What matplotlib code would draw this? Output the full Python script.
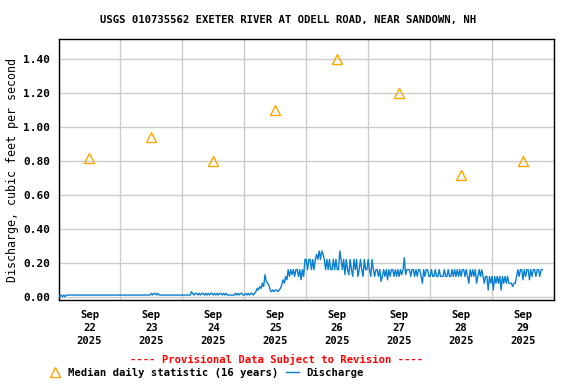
import numpy as np
import pandas as pd
import matplotlib
matplotlib.use("Agg")
import matplotlib.pyplot as plt
import matplotlib.dates as mdates
from matplotlib.lines import Line2D

plt.rcParams["font.family"] = "DejaVu Sans Mono"
plt.rcParams["font.weight"] = "bold"

title = "USGS 010735562 EXETER RIVER AT ODELL ROAD, NEAR SANDOWN, NH"

# median daily statistic, one per day (plotted at noon)
median_days = ["2025-09-22", "2025-09-23", "2025-09-24", "2025-09-25",
               "2025-09-26", "2025-09-27", "2025-09-28", "2025-09-29"]
median_vals = [0.82, 0.94, 0.80, 1.10, 1.40, 1.20, 0.72, 0.80]

# discharge readings, every 30 minutes, one list per day
q_sep22 = [0.01, 0.00, 0.01, 0.00, 0.01, 0.00] + [0.01] * 42
q_sep23 = [0.01] * 24 + [0.02, 0.01, 0.02, 0.02, 0.01, 0.02] + [0.01] * 18
q_sep24 = ([0.01] * 7 + [0.03] +
           [0.02, 0.01, 0.02, 0.02, 0.01, 0.02, 0.01, 0.02, 0.02, 0.01,
            0.02, 0.01, 0.02, 0.01, 0.02, 0.02, 0.01, 0.02, 0.01, 0.02,
            0.01, 0.02, 0.02, 0.01, 0.02, 0.01, 0.02, 0.01] +
           [0.01] * 5 +
           [0.02, 0.01, 0.02, 0.01, 0.02, 0.02, 0.01])
q_sep25 = [0.01, 0.02, 0.01, 0.02, 0.01, 0.02, 0.02, 0.01, 0.02,
           0.03, 0.05, 0.04, 0.06, 0.05, 0.08, 0.06, 0.13, 0.09, 0.08, 0.07,
           0.04, 0.03, 0.04, 0.03, 0.04, 0.04, 0.03, 0.04, 0.05,
           0.07, 0.10, 0.08, 0.12, 0.10,
           0.16, 0.12, 0.16, 0.13, 0.16, 0.12, 0.16, 0.16, 0.12, 0.16,
           0.10, 0.16, 0.12, 0.22]
q_sep26 = [0.22, 0.16, 0.22, 0.22, 0.16, 0.22, 0.16,
           0.22, 0.25, 0.22, 0.27, 0.22, 0.27, 0.25, 0.22, 0.16, 0.22,
           0.16, 0.22, 0.16, 0.16, 0.22, 0.16, 0.22, 0.16, 0.16,
           0.27, 0.22,
           0.16, 0.22, 0.13, 0.22, 0.16, 0.13,
           0.22, 0.16, 0.12, 0.22, 0.16, 0.22, 0.12, 0.16, 0.22, 0.16,
           0.12, 0.22, 0.16, 0.16]
q_sep27 = [0.22, 0.16, 0.12, 0.22, 0.16, 0.12, 0.16,
           0.16, 0.12, 0.16, 0.09, 0.12, 0.16, 0.12, 0.16, 0.10, 0.16,
           0.12, 0.16, 0.16, 0.12, 0.16, 0.12, 0.16, 0.12,
           0.16, 0.13, 0.16, 0.23, 0.13, 0.16,
           0.16, 0.16, 0.12, 0.16, 0.16, 0.12, 0.16, 0.12, 0.16, 0.16,
           0.12, 0.08, 0.16, 0.12, 0.16, 0.16, 0.12]
q_sep28 = [0.12, 0.16, 0.12, 0.12, 0.16, 0.12, 0.12, 0.16, 0.12, 0.12,
           0.12, 0.16, 0.12, 0.12, 0.16, 0.12, 0.12, 0.16, 0.12, 0.16, 0.12,
           0.16, 0.12, 0.16, 0.12, 0.16, 0.16, 0.12, 0.16, 0.12, 0.08,
           0.16, 0.12, 0.16, 0.12, 0.16, 0.08, 0.12, 0.16, 0.12, 0.16,
           0.12, 0.08, 0.12,
           0.12, 0.04, 0.12, 0.08]
q_sep29 = [0.12, 0.04, 0.12, 0.08, 0.12,
           0.08, 0.12, 0.04, 0.12, 0.08, 0.12, 0.08, 0.12, 0.08, 0.08,
           0.08, 0.06, 0.08, 0.08, 0.12,
           0.16, 0.12, 0.16, 0.16, 0.10, 0.16, 0.12, 0.16, 0.16, 0.10,
           0.16, 0.12, 0.16, 0.16, 0.12, 0.16, 0.16, 0.12, 0.16, 0.16]

discharge = (q_sep22 + q_sep23 + q_sep24 + q_sep25 + q_sep26 +
             q_sep27 + q_sep28 + q_sep29)
times = pd.date_range("2025-09-22 00:00", periods=len(discharge), freq="30min")
median_times = pd.to_datetime(median_days) + pd.Timedelta(hours=12)

fig = plt.figure(figsize=(5.76, 3.84), dpi=100)
ax = fig.add_axes([0.1016, 0.2188, 0.8602, 0.6789])

ax.plot(times, discharge, color="#0a7fd0", lw=1.0, zorder=3)
ax.plot(median_times, median_vals, linestyle="none", marker="^", ms=7.5,
        mfc="none", mec="#ffa500", mew=1.0, zorder=4)

ax.set_xlim(pd.Timestamp("2025-09-22"), pd.Timestamp("2025-09-30"))
ax.set_ylim(-0.019, 1.518)

# gridlines at midnight, labels at noon
ax.xaxis.set_major_locator(mdates.DayLocator())
ax.xaxis.set_major_formatter(plt.NullFormatter())
ax.xaxis.set_minor_locator(mdates.HourLocator(byhour=[12]))
ax.xaxis.set_minor_formatter(mdates.DateFormatter("%b\n%d\n%Y"))
ax.set_yticks(np.arange(0, 1.41, 0.2))
ax.yaxis.set_major_formatter(plt.FormatStrFormatter("%.2f"))

ax.tick_params(axis="both", which="both", length=0)
ax.tick_params(axis="x", which="minor", pad=7.5, labelsize=7.6)
ax.tick_params(axis="y", pad=6, labelsize=8)
for lab in ax.xaxis.get_minorticklabels():
    lab.set_linespacing(1.36)

ax.grid(True, which="major", color="#cccccc", lw=1.0)
ax.set_axisbelow(True)
for s in ax.spines.values():
    s.set_linewidth(1.0)
    s.set_color("black")

ax.set_ylabel("Discharge, cubic feet per second", fontsize=8.4)
ax.yaxis.set_label_coords(-0.079, 0.5)

fig.text(0.5, 0.948, title, ha="center", va="center", fontsize=7.7)
fig.text(0.481, 0.065, "---- Provisional Data Subject to Revision ----",
         ha="center", va="center", fontsize=7.6, color="red")

handles = [
    Line2D([], [], linestyle="none", marker="^", ms=7.5, mfc="none",
           mec="#ffa500", mew=1.0),
    Line2D([], [], color="#0a7fd0", lw=1.0),
]
fig.legend(handles, ["Median daily statistic (16 years)", "Discharge"],
           loc="center", bbox_to_anchor=(0.357, 0.029), ncol=2, frameon=False,
           fontsize=7.55, handlelength=1.24, handletextpad=0.62,
           columnspacing=0.8, borderaxespad=0, borderpad=0)

fig.savefig("out.png", dpi=100)
